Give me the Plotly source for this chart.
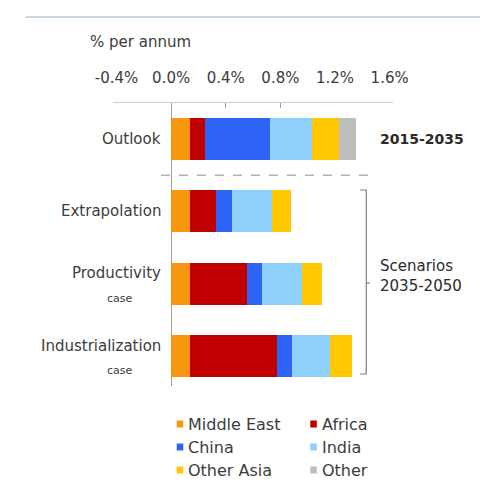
import plotly.graph_objects as go

W, H = 498, 483

categories = ["Outlook", "Extrapolation", "Productivity", "Industrialization"]
cat_sub = ["", "", "case", "case"]
regions = ["Middle East", "Africa", "China", "India", "Other Asia", "Other"]
colors = ["#F7960F", "#C00000", "#2E64F5", "#8ED0FA", "#FFC800", "#BEBEBE"]

middle_east = [0.137, 0.137, 0.137, 0.137]
africa = [0.116, 0.19, 0.42, 0.64]
china = [0.47, 0.12, 0.11, 0.11]
india = [0.31, 0.29, 0.29, 0.28]
other_asia = [0.20, 0.14, 0.15, 0.16]
other = [0.12, 0.0, 0.0, 0.0]
series = [middle_east, africa, china, india, other_asia, other]

tick_vals = [-0.4, 0.0, 0.4, 0.8, 1.2, 1.6]
tick_text = ["-0.4%", "0.0%", "0.4%", "0.8%", "1.2%", "1.6%"]

FONT = "DejaVu Sans, Verdana, sans-serif"
TXT = "#3c3c3c"

def px(x):
    return x / W

def py(y):
    return 1 - y / H

ypos = list(range(len(categories)))

fig = go.Figure()
for name, col, vals in zip(regions, colors, series):
    fig.add_trace(go.Bar(
        y=ypos, x=vals, name=name, orientation="h",
        marker=dict(color=col, line=dict(width=0)),
        width=0.58, showlegend=False, hoverinfo="x+name",
    ))

# axis geometry (pixels)
x0_px, x1_px = 102, 402
zero_px = 164
ppu = 146.25
yt_px, yb_px = 103, 386
y0c, pitch = 139, 72.3

fig.update_layout(
    width=W, height=H,
    margin=dict(l=0, r=0, t=0, b=0),
    paper_bgcolor="white", plot_bgcolor="white",
    barmode="stack", bargap=0,
    font=dict(family=FONT, color=TXT, size=15),
    xaxis=dict(
        domain=[px(x0_px), px(x1_px)],
        range=[(x0_px - zero_px) / ppu, (x1_px - zero_px) / ppu],
        side="top", showline=True, linecolor="#CFCFCF", linewidth=1,
        showgrid=False, zeroline=True, zerolinecolor="#A0A0A0", zerolinewidth=1,
        tickvals=tick_vals, ticktext=tick_text,
        ticks="outside", ticklen=13, tickcolor="rgba(0,0,0,0)",
        tickfont=dict(size=15, color=TXT),
        minor=dict(tickvals=[0.0, 0.4, 0.8], ticks="inside", ticklen=5,
                   tickcolor="#A0A0A0", showgrid=False),
    ),
    yaxis=dict(
        domain=[py(yb_px), py(yt_px)],
        range=[(yb_px - y0c) / pitch, (yt_px - y0c) / pitch],
        showline=False, showgrid=False, zeroline=False,
        showticklabels=False, ticks="",
    ),
)

# category labels
LBL_R = 155
for i, (c, s) in enumerate(zip(categories, cat_sub)):
    if s:
        fig.add_annotation(x=px(LBL_R), xref="paper", y=i - 0.14, yref="y", text=c,
                           showarrow=False, xanchor="right", yanchor="middle",
                           font=dict(size=15, color=TXT))
        fig.add_annotation(x=px(LBL_R - 46), xref="paper", y=i + 0.2, yref="y", text=s,
                           showarrow=False, xanchor="center", yanchor="middle",
                           font=dict(size=11, color=TXT))
    else:
        fig.add_annotation(x=px(LBL_R), xref="paper", y=i, yref="y", text=c,
                           showarrow=False, xanchor="right", yanchor="middle",
                           font=dict(size=15, color=TXT))

# top rule
fig.add_shape(type="line", xref="paper", yref="paper", x0=px(8), x1=px(495),
              y0=py(17), y1=py(17), line=dict(color="#C9D5E2", width=2))

# title
fig.add_annotation(x=px(75), y=py(42), xref="paper", yref="paper", text="% per annum",
                   showarrow=False, xanchor="left", yanchor="middle",
                   font=dict(size=15, color=TXT))

# dashed separator
fig.add_shape(type="line", xref="paper", yref="y", x0=px(153), x1=px(378),
              y0=0.5, y1=0.5, line=dict(color="#A9B4BE", width=1.5, dash="dash"))

# bracket
bx = 373
fig.add_shape(type="path", xref="paper", yref="paper",
              path=f"M {px(bx-7)} {py(190)} L {px(bx)} {py(190)} L {px(bx)} {py(374)} L {px(bx-7)} {py(374)}",
              line=dict(color="#7F7F7F", width=1.2))
fig.add_shape(type="line", xref="paper", yref="paper", x0=px(bx), x1=px(bx+4),
              y0=py(283), y1=py(283), line=dict(color="#7F7F7F", width=1.2))

fig.add_annotation(x=px(386), y=0, xref="paper", yref="y", text="<b>2015-2035</b>",
                   showarrow=False, xanchor="left", yanchor="middle",
                   font=dict(size=14, color="#2a2a2a"))
fig.add_annotation(x=px(386), y=py(276), xref="paper", yref="paper",
                   text="Scenarios<br>2035-2050",
                   showarrow=False, xanchor="left", yanchor="middle", align="left",
                   font=dict(size=15, color="#2a2a2a"))

# legend (manual, two columns)
leg_rows = [424, 447, 470]
leg_cols = [170, 313]
for k, (name, col) in enumerate(zip(regions, colors)):
    r, c = divmod(k, 2)
    xx, yy = leg_cols[c], leg_rows[r]
    fig.add_shape(type="rect", xref="paper", yref="paper",
                  x0=px(xx), x1=px(xx + 7), y0=py(yy + 3.5), y1=py(yy - 3.5),
                  fillcolor=col, line=dict(width=0))
    fig.add_annotation(x=px(xx + 10), y=py(yy), xref="paper", yref="paper", text=name,
                       showarrow=False, xanchor="left", yanchor="middle",
                       font=dict(size=16, color=TXT))

fig.write_html("out.html", config={"displayModeBar": False})

# remove default page margin so the figure sits at the window's top-left
with open("out.html", "r", encoding="utf-8") as f:
    html = f.read()
html = html.replace("<head>", "<head><style>html,body{margin:0;padding:0;overflow:hidden;}</style>", 1)
with open("out.html", "w", encoding="utf-8") as f:
    f.write(html)
